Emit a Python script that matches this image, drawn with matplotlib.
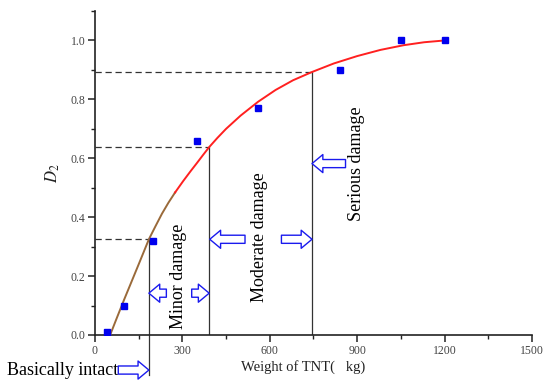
import matplotlib.pyplot as plt
from matplotlib.patches import FancyArrowPatch
from matplotlib.ticker import MultipleLocator

plt.rcParams['font.family'] = 'Liberation Serif'
plt.rcParams['mathtext.fontset'] = 'stix'

# measured points
tnt = [40, 100, 200, 350, 560, 840, 1050, 1200]
d2 = [0.01, 0.10, 0.32, 0.66, 0.77, 0.90, 1.00, 1.00]

# fitted curve
fit_x = [52, 75, 100, 125, 150, 185, 208, 230, 252, 275, 303, 328, 350, 370,
         392, 420, 450, 500, 560, 620, 680, 745, 820, 900, 980, 1060, 1130, 1200]
fit_y = [0.0, 0.058, 0.12, 0.18, 0.24, 0.325, 0.37, 0.412, 0.449, 0.484, 0.523,
         0.556, 0.584, 0.61, 0.638, 0.669, 0.70, 0.745, 0.792, 0.832, 0.865,
         0.893, 0.922, 0.947, 0.968, 0.984, 0.994, 1.0]
brown_end = 10  # lower part of the curve is drawn brown

# damage thresholds
thresh_x = [185, 392, 745]
thresh_d = [0.325, 0.64, 0.893]

fig = plt.figure(figsize=(5.5, 3.88), dpi=100)
ax = fig.add_axes([0.1727, 0.1366, 0.7945, 0.835])

ax.plot(fit_x[:brown_end], fit_y[:brown_end], color='#9a6a3a', lw=1.4, zorder=3)
ax.plot(fit_x[brown_end - 1:], fit_y[brown_end - 1:], color='#ff2020', lw=1.4, zorder=3)
ax.plot(tnt, d2, 's', color='#0000ee', ms=4.5, zorder=4)

# dashed levels and vertical boundaries
for xv, dv in zip(thresh_x, thresh_d):
    ax.plot([0, xv], [dv, dv], ls=(0, (5, 3)), color='#333333', lw=0.9)
ax.plot([thresh_x[0], thresh_x[0]], [-0.135, thresh_d[0]], color='#333333', lw=0.9,
        clip_on=False)
ax.plot([thresh_x[1], thresh_x[1]], [0, thresh_d[1]], color='#333333', lw=0.9)
ax.plot([thresh_x[2], thresh_x[2]], [0, thresh_d[2]], color='#333333', lw=0.9)

# hollow block arrows (tail, tip, level)
arrows = [(245, 185, 0.142), (332, 392, 0.142), (515, 394, 0.325),
          (640, 745, 0.325), (860, 745, 0.582), (80, 185, -0.119)]
for tail, tip, lvl in arrows:
    arr = FancyArrowPatch((tail, lvl), (tip, lvl),
                          arrowstyle='simple,head_length=0.6,head_width=1.0,tail_width=0.45',
                          mutation_scale=13, shrinkA=0, shrinkB=0,
                          fc='white', ec='#1a1aee', lw=1.0, clip_on=False, zorder=5)
    ax.add_patch(arr)

ax.text(285, 0.2, 'Minor damage', rotation=90, fontsize=13, ha='center', va='center')
ax.text(566, 0.333, 'Moderate damage', rotation=90, fontsize=13, ha='center', va='center')
ax.text(898, 0.58, 'Serious damage', rotation=90, fontsize=13, ha='center', va='center')
ax.text(79, -0.119, 'Basically intact', fontsize=13, ha='right', va='center',
        clip_on=False)

ax.set_xlim(0, 1500)
ax.set_ylim(0, 1.1)
ax.set_xticks([0, 300, 600, 900, 1200, 1500])
ax.set_yticks([0.0, 0.2, 0.4, 0.6, 0.8, 1.0])
ax.xaxis.set_minor_locator(MultipleLocator(150))
ax.yaxis.set_minor_locator(MultipleLocator(0.1))
ax.tick_params(which='major', direction='out', length=5, width=1.1, labelsize=8.5,
               labelcolor='#444444', color='#222222', pad=2)
ax.tick_params(which='minor', direction='out', length=3, width=1.0, color='#222222')

for s in ['top', 'right']:
    ax.spines[s].set_visible(False)
for s in ['left', 'bottom']:
    ax.spines[s].set_linewidth(1.2)
    ax.spines[s].set_color('#222222')

ax.set_xlabel('Weight of TNT(   kg)', fontsize=10.5, color='#222222')
ax.xaxis.set_label_coords(0.477, -0.078)
ax.set_ylabel('$D_2$', fontsize=12, color='#222222')
ax.yaxis.set_label_coords(-0.075, 0.5)

fig.savefig('out.png', dpi=100)
